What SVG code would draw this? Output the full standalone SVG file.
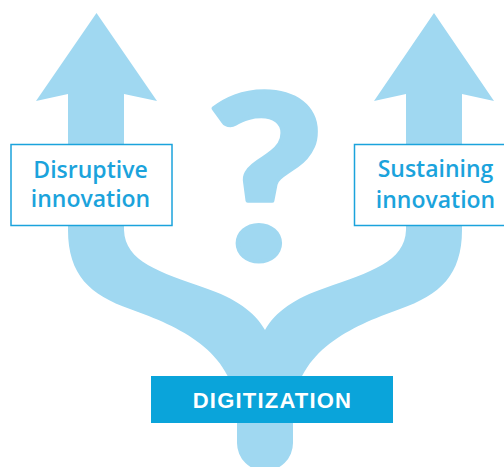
<svg xmlns="http://www.w3.org/2000/svg" width="504" height="467" viewBox="0 0 504 467">
  <style>
    .band { fill: #a0d8f1; }
    .label-box { fill: #ffffff; stroke: #1ba3dc; stroke-width: 1.5; }
    .label { font-family: "Open Sans", "Liberation Sans", sans-serif; font-weight: 600; font-size: 23px; fill: #1ba3dc; text-anchor: middle; }
    .main-box { fill: #0aa4da; }
    .main-label { font-family: "Liberation Sans", Arial, sans-serif; font-weight: bold; font-size: 22px; fill: #ffffff; text-anchor: middle; letter-spacing: 1.2px; }
    .qmark { font-family: Lato, "Liberation Sans", sans-serif; font-weight: 900; font-size: 230px; fill: #a0d8f1; stroke: #a0d8f1; stroke-width: 4; stroke-linejoin: round; text-anchor: middle; }
  </style>

  <!-- forked arrow: one stem splitting into two upward arrows -->
  <g id="connectors">
    <path class="band" d="
      M 96.5,13 L 36,101 L 68,94 L 68,230
      C 68,275 90,295 130,309
      C 180,327 232,350 237,410
      L 237,443 A 28 28 0 0 0 293,443 L 293,410
      C 298,350 350,327 400,309
      C 440,295 462,275 462,230
      L 462,94 L 494,101 L 434,13 L 374,101 L 406,94 L 406,230
      C 405,262 370,272 325,288
      C 295,298 275,312 265,330
      C 255,312 235,298 205,288
      C 160,272 125,262 124,230
      L 124,94 L 157,101 Z"/>
  </g>

  <!-- large question mark, widened slightly -->
  <g id="question">
    <text class="qmark" x="263" y="260" transform="matrix(1.12 0 0 1 -29.4 0)">?</text>
  </g>

  <g id="disruptive">
    <rect class="label-box" x="11" y="144.5" width="161" height="81"/>
    <text class="label" x="90.5" y="178">Disruptive</text>
    <text class="label" x="90.5" y="207">innovation</text>
  </g>

  <g id="sustaining">
    <rect class="label-box" x="354.5" y="144.5" width="160" height="81"/>
    <text class="label" x="435.5" y="177">Sustaining</text>
    <text class="label" x="435.5" y="208">innovation</text>
  </g>

  <g id="digitization">
    <rect class="main-box" x="151" y="376" width="242" height="47"/>
    <text class="main-label" x="272.5" y="407.5">DIGITIZATION</text>
  </g>
</svg>
